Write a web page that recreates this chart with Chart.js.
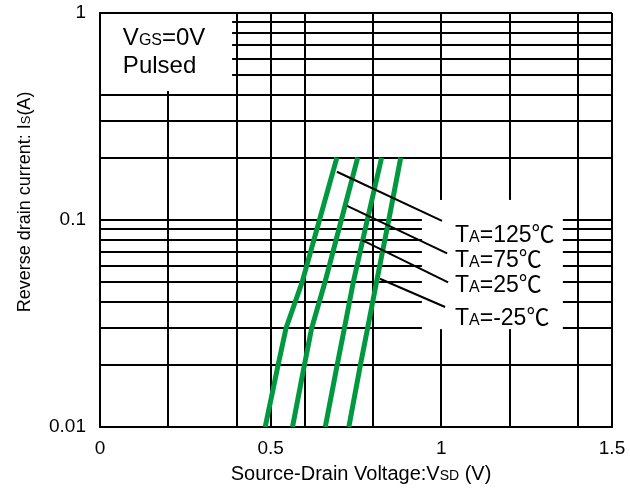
<!DOCTYPE html>
<html lang="en">
<head>
    <meta charset="UTF-8">
    <title>Reverse drain current vs Source-Drain Voltage</title>
    <style>
        html, body { margin: 0; padding: 0; background: #fff; }
        .wrap { width: 630px; height: 488px; }
    </style>
</head>
<body>
<div class="wrap"><canvas id="vsdChart" width="630" height="488"></canvas></div>

<script src="https://cdn.jsdelivr.net/npm/chart.js"></script>
<script>
    // Curve labels (ambient temperature)
    const temps = ['125', '75', '25', '-25'];
    // Reverse drain current points (A) read on each curve
    const currents = [0.01, 0.02, 0.03, 0.05, 0.1, 0.2];
    // Source-drain voltage (V) for each curve at those currents
    const vsd125 = [0.484, 0.522, 0.545, 0.592, 0.643, 0.694];
    const vsd75 = [0.564, 0.599, 0.620, 0.659, 0.707, 0.755];
    const vsd25 = [0.660, 0.695, 0.716, 0.742, 0.783, 0.825];
    const vsdM25 = [0.729, 0.763, 0.784, 0.810, 0.846, 0.881];

    // Leader lines from each curve to its label: [start, end]
    const leadV = [[0.694, 1.002], [0.724, 1.017], [0.768, 1.020], [0.820, 1.011]];
    const leadI = [[0.171, 0.099], [0.117, 0.069], [0.080, 0.050], [0.052, 0.038]];

    // Grid lines and tick labels
    const xGrid = [0, 0.2, 0.4, 0.5, 0.6, 0.8, 1, 1.2, 1.4, 1.5];
    const xLabels = [0, 0.5, 1, 1.5];
    const yGrid = [0.01, 0.02, 0.03, 0.04, 0.05, 0.06, 0.07, 0.08, 0.09,
                   0.1, 0.2, 0.3, 0.4, 0.5, 0.6, 0.7, 0.8, 0.9, 1];
    const yLabels = [0.01, 0.1, 1];

    const FONT = '"Liberation Sans", Arial, sans-serif';
    const CJK = '"Noto Sans CJK JP", "Liberation Sans", sans-serif';
    const GREEN = '#00993f';

    // draw text made of pieces with different sizes (for subscripts)
    function drawRich(c, parts, x, y, align) {
        let total = 0;
        parts.forEach(p => {
            c.font = p.size + 'px ' + (p.f || FONT);
            p.w = c.measureText(p.t).width;
            total += p.w;
        });
        let cx = align === 'center' ? x - total / 2 : x;
        c.textAlign = 'left';
        c.textBaseline = 'alphabetic';
        parts.forEach(p => {
            c.font = p.size + 'px ' + (p.f || FONT);
            c.fillText(p.t, cx, y);
            cx += p.w;
        });
    }

    const overlay = {
        id: 'overlay',
        beforeDatasetsDraw(chart) {
            const c = chart.ctx, xs = chart.scales.x, ys = chart.scales.y;
            const a = chart.chartArea;
            c.save();
            c.fillStyle = '#fff';
            // box behind "VGS=0V Pulsed"
            let x1 = a.left + 1, y1 = a.top + 1;
            let x2 = xs.getPixelForValue(0.387), y2 = ys.getPixelForValue(0.42);
            c.fillRect(x1, y1, x2 - x1, y2 - y1);
            // box behind temperature labels
            x1 = xs.getPixelForValue(0.943); x2 = xs.getPixelForValue(1.356);
            y1 = ys.getPixelForValue(0.125); y2 = ys.getPixelForValue(0.0297);
            c.fillRect(x1, y1, x2 - x1, y2 - y1);
            c.restore();
        },
        afterDraw(chart) {
            const c = chart.ctx, xs = chart.scales.x, ys = chart.scales.y;
            c.save();
            c.fillStyle = '#000';
            // condition note
            drawRich(c, [{ t: 'V', size: 24 }, { t: 'GS', size: 16 }, { t: '=0V', size: 24 }],
                xs.getPixelForValue(0.067), ys.getPixelForValue(0.70), 'left');
            drawRich(c, [{ t: 'Pulsed', size: 24 }],
                xs.getPixelForValue(0.067), ys.getPixelForValue(0.513), 'left');
            // temperature labels
            const labelI = [0.0783, 0.0593, 0.0449, 0.0311];
            temps.forEach((t, i) => {
                drawRich(c, [{ t: 'T', size: 23 }, { t: 'A', size: 16 }, { t: '=' + t, size: 23 },
                             { t: '\u2103', size: 23, f: CJK }],
                    xs.getPixelForValue(1.040), ys.getPixelForValue(labelI[i]), 'left');
            });
            // axis titles
            drawRich(c, [{ t: 'Source-Drain Voltage:V', size: 20 }, { t: 'SD', size: 14 }, { t: ' (V)', size: 20 }],
                361, 480, 'center');
            c.translate(30, 202);
            c.rotate(-Math.PI / 2);
            drawRich(c, [{ t: 'Reverse drain current: I', size: 18 }, { t: 'S', size: 13 }, { t: '(A)', size: 18 }],
                0, 0, 'center');
            c.restore();
        }
    };

    const pts = (vs, is) => vs.map((v, i) => ({ x: v, y: is[i] }));
    const curveStyle = { borderColor: GREEN, borderWidth: 5, pointRadius: 0, tension: 0, borderCapStyle: 'butt', fill: false };
    const leadStyle = { borderColor: '#000', borderWidth: 2, pointRadius: 0, tension: 0, fill: false };

    const datasets = [];
    leadV.forEach((lv, i) => {
        datasets.push(Object.assign({ label: 'lead ' + temps[i], data: pts(lv, leadI[i]) }, leadStyle));
    });
    [vsd125, vsd75, vsd25, vsdM25].forEach((vs, i) => {
        datasets.push(Object.assign({ label: 'TA=' + temps[i], data: pts(vs, currents) }, curveStyle));
    });

    const ctx = document.getElementById('vsdChart').getContext('2d');
    new Chart(ctx, {
        type: 'line',
        data: { datasets: datasets },
        options: {
            responsive: false,
            animation: false,
            layout: { padding: { left: 0, right: 18, top: 13, bottom: 0 } },
            plugins: { legend: { display: false }, tooltip: { enabled: false } },
            scales: {
                x: {
                    type: 'linear', min: 0, max: 1.5,
                    afterBuildTicks: s => { s.ticks = xGrid.map(v => ({ value: v })); },
                    afterFit: s => { s.height = 61; s.paddingLeft = 0; s.paddingRight = 0; },
                    grid: { color: '#000', lineWidth: 2, drawTicks: false },
                    border: { color: '#000', width: 2 },
                    ticks: {
                        autoSkip: false, maxRotation: 0, padding: 10, color: '#000',
                        font: { family: FONT, size: 19 },
                        callback: v => xLabels.includes(v) ? String(v) : ''
                    }
                },
                y: {
                    type: 'logarithmic', min: 0.01, max: 1,
                    afterBuildTicks: s => { s.ticks = yGrid.map(v => ({ value: v })); },
                    afterFit: s => { s.width = 100; s.paddingTop = 0; s.paddingBottom = 0; },
                    grid: { color: '#000', lineWidth: 2, drawTicks: false },
                    border: { color: '#000', width: 2 },
                    ticks: {
                        autoSkip: false, padding: 14, color: '#000',
                        font: { family: FONT, size: 19 },
                        callback: v => yLabels.includes(v) ? String(v) : ''
                    }
                }
            }
        },
        plugins: [overlay]
    });
</script>
</body>
</html>
